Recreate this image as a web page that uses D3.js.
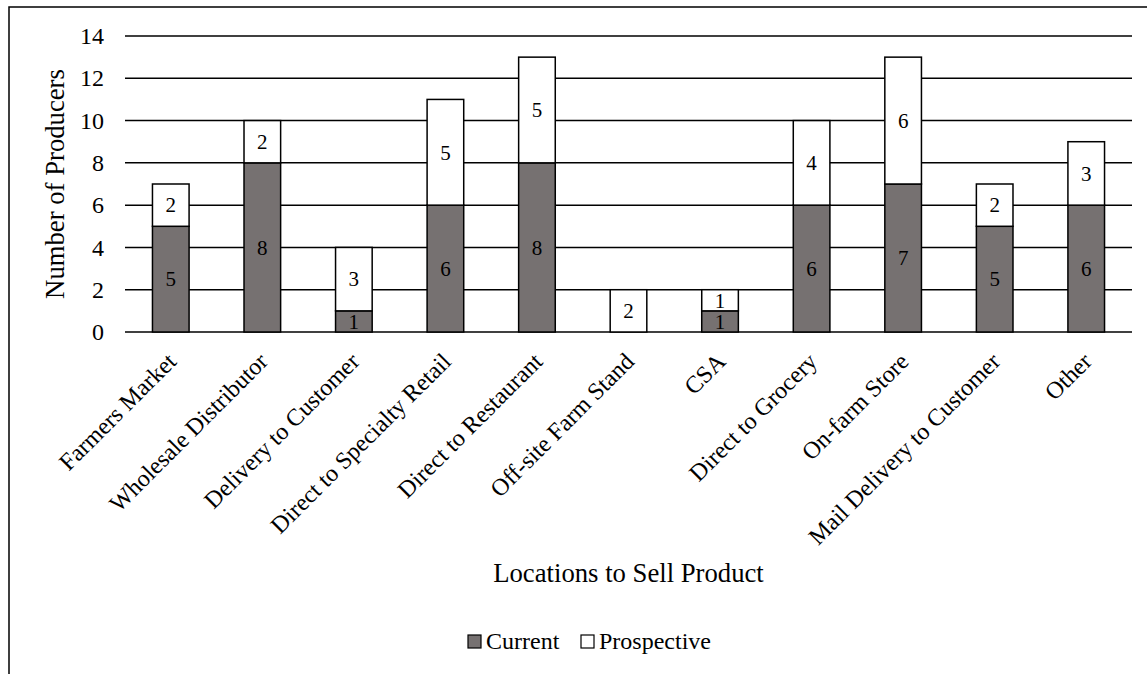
<!DOCTYPE html>
<html>
<head>
<meta charset="utf-8">
<script src="https://cdn.jsdelivr.net/npm/d3@7"></script>
<style>
  html, body { margin: 0; padding: 0; background: #fff; }
  svg { display: block; font-family: "Liberation Serif", "Times New Roman", serif; }
</style>
</head>
<body>
<svg id="chart" width="1147" height="674"></svg>
<script>
// Sales locations and producer counts
const categories = [
  "Farmers Market", "Wholesale Distributor", "Delivery to Customer",
  "Direct to Specialty Retail", "Direct to Restaurant", "Off-site Farm Stand",
  "CSA", "Direct to Grocery", "On-farm Store", "Mail Delivery to Customer", "Other"
];
const current     = [5, 8, 1, 6, 8, 0, 1, 6, 7, 5, 6];
const prospective = [2, 2, 3, 5, 5, 2, 1, 4, 6, 2, 3];
const seriesNames = ["Current", "Prospective"];
const yTicks = [0, 2, 4, 6, 8, 10, 12, 14];

const colors = { Current: "#767171", Prospective: "#ffffff" };
const serif = "Liberation Serif, Times New Roman, serif";

const svg = d3.select("#chart");

// outer frame
svg.append("rect")
  .attr("x", 9).attr("y", 7)
  .attr("width", 1150).attr("height", 700)
  .attr("fill", "none").attr("stroke", "#000").attr("stroke-width", 1.5);

const plot = { left: 125, right: 1132, top: 36, bottom: 332 };

const x = d3.scaleBand()
  .domain(categories)
  .range([plot.left, plot.right])
  .paddingInner(0.6).paddingOuter(0.3);

const y = d3.scaleLinear().domain([0, 14]).range([plot.bottom, plot.top]);

// gridlines
svg.append("g")
  .selectAll("line")
  .data(yTicks)
  .join("line")
  .attr("x1", plot.left).attr("x2", plot.right)
  .attr("y1", d => y(d)).attr("y2", d => y(d))
  .attr("stroke", "#000").attr("stroke-width", 1.5);

// y axis labels
const yAxis = svg.append("g")
  .attr("transform", `translate(${plot.left},0)`)
  .call(d3.axisLeft(y).tickValues(yTicks).tickSize(0).tickPadding(21));
yAxis.select(".domain").remove();
yAxis.selectAll("text")
  .attr("font-family", serif)
  .attr("font-size", 24).attr("fill", "#000");

// stacked data
const rows = categories.map((c, i) => ({ cat: c, Current: current[i], Prospective: prospective[i] }));
const stack = d3.stack().keys(seriesNames)(rows);

const layers = svg.append("g")
  .selectAll("g")
  .data(stack)
  .join("g")
  .attr("fill", d => colors[d.key]);

layers.selectAll("rect")
  .data(d => d.filter(s => s[1] - s[0] > 0))
  .join("rect")
  .attr("x", d => x(d.data.cat))
  .attr("width", x.bandwidth())
  .attr("y", d => y(d[1]))
  .attr("height", d => y(d[0]) - y(d[1]))
  .attr("stroke", "#000").attr("stroke-width", 1.5);

// value labels
layers.selectAll("text")
  .data(d => d.filter(s => s[1] - s[0] > 0))
  .join("text")
  .attr("x", d => x(d.data.cat) + x.bandwidth() / 2)
  .attr("y", d => (y(d[0]) + y(d[1])) / 2)
  .attr("dy", "0.35em")
  .attr("text-anchor", "middle")
  .attr("font-size", 21)
  .attr("fill", "#000")
  .text(d => d[1] - d[0]);

// category labels, rotated
svg.append("g")
  .selectAll("text")
  .data(categories)
  .join("text")
  .attr("transform", d => `translate(${x(d) + x.bandwidth() / 2 + 1},${plot.bottom + 25}) rotate(-45)`)
  .attr("text-anchor", "end")
  .attr("dy", "0.35em")
  .attr("font-size", 24)
  .attr("fill", "#000")
  .text(d => d);

// axis titles
svg.append("text")
  .attr("transform", `translate(64,${(plot.top + plot.bottom) / 2}) rotate(-90)`)
  .attr("text-anchor", "middle")
  .attr("font-size", 26.7)
  .text("Number of Producers");

svg.append("text")
  .attr("x", (plot.left + plot.right) / 2).attr("y", 582)
  .attr("text-anchor", "middle")
  .attr("font-size", 26.7)
  .text("Locations to Sell Product");

// legend
const legendItems = [
  { name: "Current", x: 468 },
  { name: "Prospective", x: 581 }
];
const legend = svg.append("g");
legend.selectAll("rect")
  .data(legendItems)
  .join("rect")
  .attr("x", d => d.x).attr("y", 635)
  .attr("width", 13).attr("height", 13)
  .attr("fill", d => colors[d.name])
  .attr("stroke", "#000").attr("stroke-width", 1.2);
legend.selectAll("text")
  .data(legendItems)
  .join("text")
  .attr("x", d => d.x + 18).attr("y", 649)
  .attr("font-size", 24)
  .text(d => d.name);
</script>
</body>
</html>
